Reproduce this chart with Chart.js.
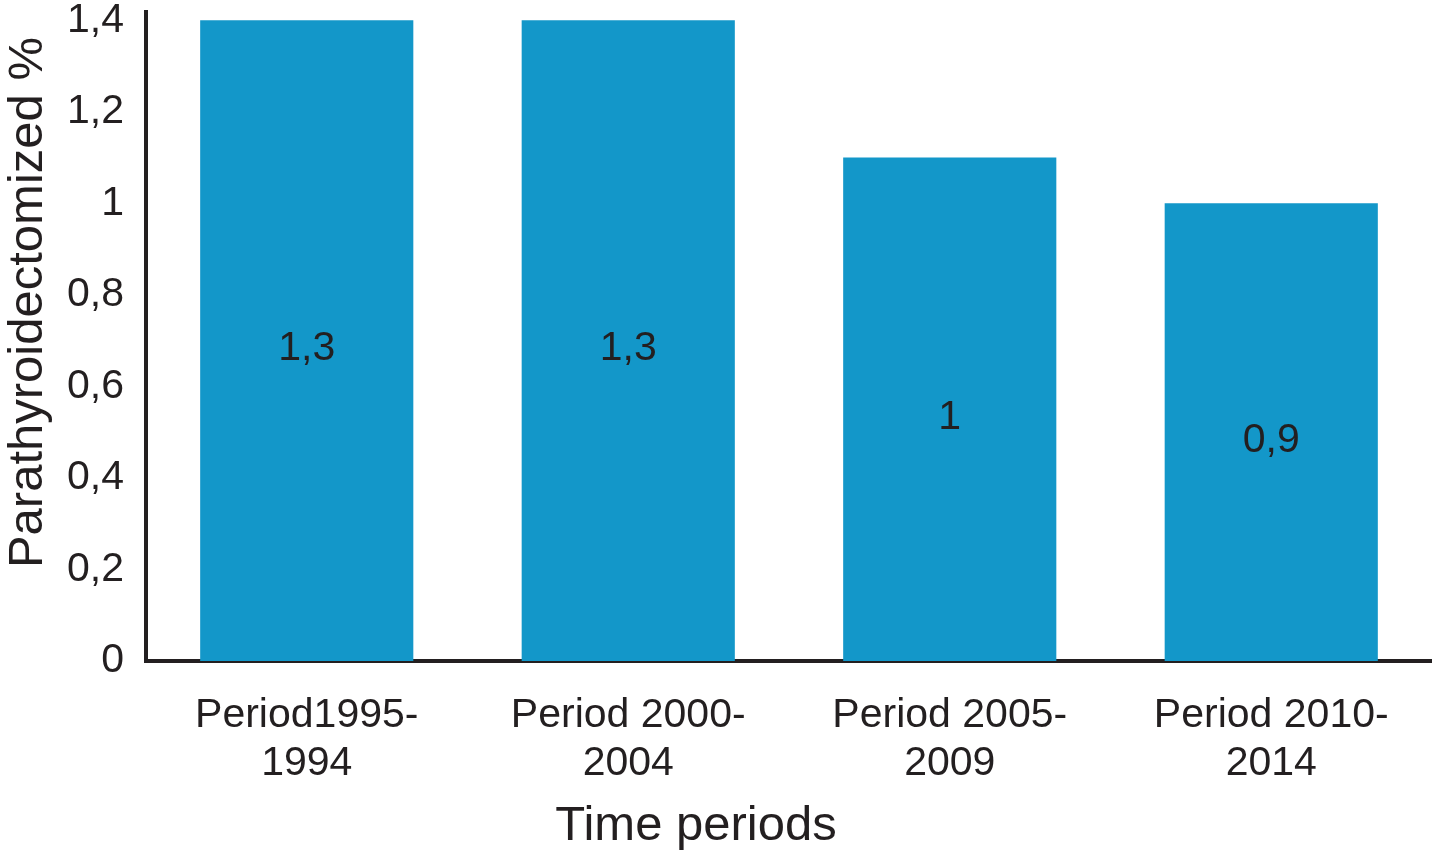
<!DOCTYPE html>
<html>
<head>
<meta charset="utf-8">
<script src="https://cdn.jsdelivr.net/npm/chart.js@4"></script>
<style>
  html, body { margin: 0; padding: 0; background: #fff; }
  #wrap { width: 1432px; height: 852px; }
</style>
</head>
<body>
<div id="wrap"><canvas id="parathChart"></canvas></div>
<script>
// categorias eje X
const periodos = [
    ["Period1995-", "1994"],
    ["Period 2000-", "2004"],
    ["Period 2005-", "2009"],
    ["Period 2010-", "2014"]
];

// altura de las barras
const alturas = [1.4, 1.4, 1.1, 1.0];

// etiquetas dentro de las barras
const etiquetasBarras = ["1,3", "1,3", "1", "0,9"];

// ticks eje Y
const ticksY = [0, 0.2, 0.4, 0.6, 0.8, 1, 1.2, 1.4];

const tituloX = "Time periods";
const tituloY = "Parathyroidectomized %";

const colorTexto = "#231f20";
const fuente = "'Liberation Sans', Arial, sans-serif";

// plugin: texto en el centro de cada barra
const etiquetasPlugin = {
    id: "etiquetas",
    afterDatasetsDraw(chart) {
        const ctx = chart.ctx;
        const meta = chart.getDatasetMeta(0);
        ctx.save();
        ctx.fillStyle = colorTexto;
        ctx.font = "41px " + fuente;
        ctx.textAlign = "center";
        ctx.textBaseline = "middle";
        meta.data.forEach((bar, i) => {
            const y = (bar.y + bar.base) / 2 + 8;
            ctx.fillText(etiquetasBarras[i], bar.x, y);
        });
        ctx.restore();
    }
};

// plugin: titulos de ejes (en el original no estan centrados)
const titulosPlugin = {
    id: "titulos",
    afterDraw(chart) {
        const ctx = chart.ctx;
        const area = chart.chartArea;
        ctx.save();
        ctx.fillStyle = colorTexto;
        ctx.font = "49px " + fuente;
        ctx.textAlign = "center";
        ctx.textBaseline = "middle";

        // titulo eje X
        const xT = area.left + 0.4277 * (area.right - area.left);
        ctx.fillText(tituloX, xT, chart.height - 26);

        // titulo eje Y
        const yT = area.top + 0.4477 * (area.bottom - area.top);
        ctx.translate(28, yT);
        ctx.rotate(-Math.PI / 2);
        ctx.fillText(tituloY, 0, 0);
        ctx.restore();
    }
};

const ctx = document.getElementById("parathChart").getContext("2d");

new Chart(ctx, {
    type: "bar",
    data: {
        labels: periodos,
        datasets: [{
            label: tituloY,
            data: alturas,
            backgroundColor: "#1397c9",
            borderWidth: 0,
            barPercentage: 1,
            categoryPercentage: 0.663
        }]
    },
    options: {
        responsive: true,
        maintainAspectRatio: false,
        animation: false,
        layout: {
            padding: { left: 45, right: 0, top: 12, bottom: 33 }
        },
        plugins: {
            legend: { display: false },
            tooltip: { enabled: false }
        },
        scales: {
            x: {
                grid: { display: false, drawTicks: false },
                border: { display: true, width: 4, color: colorTexto },
                ticks: {
                    color: colorTexto,
                    font: { size: 41, family: fuente, lineHeight: 1.17 },
                    padding: 31,
                    maxRotation: 0
                }
            },
            y: {
                min: 0,
                max: 1.418,
                afterBuildTicks: axis => {
                    axis.ticks = ticksY.map(v => ({ value: v }));
                },
                // que la etiqueta superior no empuje el area del grafico
                afterFit: axis => {
                    axis.paddingTop = 0;
                },
                grid: { display: false, drawTicks: false },
                border: { display: true, width: 4, color: colorTexto },
                ticks: {
                    color: colorTexto,
                    font: { size: 41, family: fuente },
                    padding: 22,
                    callback: v => String(v).replace(".", ",")
                }
            }
        }
    },
    plugins: [etiquetasPlugin, titulosPlugin]
});
</script>
</body>
</html>
